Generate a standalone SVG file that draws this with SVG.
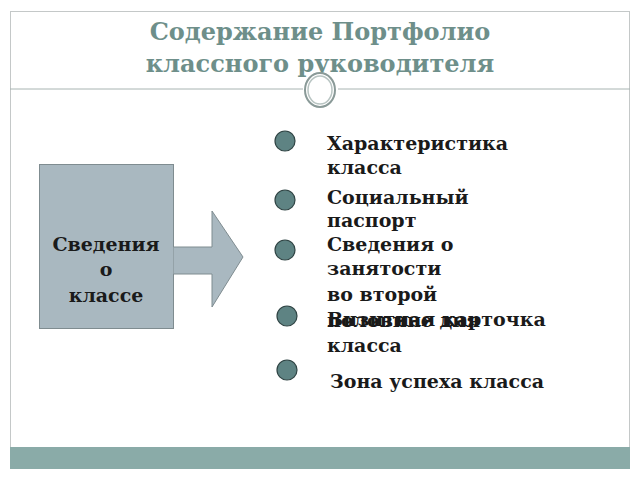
<svg xmlns="http://www.w3.org/2000/svg" width="640" height="480" viewBox="0 0 640 480">
<style>
.title{font-family:"DejaVu Serif",serif;font-weight:bold;font-size:24px;fill:#6e8f8a;text-anchor:middle}
.t{font-family:"DejaVu Serif",serif;font-weight:bold;font-size:19px;fill:#1a1a1a}
.b{fill:#5e8383;stroke:#2f4444;stroke-width:1.2}
</style>
<rect x="0" y="0" width="640" height="480" fill="#ffffff"/>
<rect x="10.5" y="11.5" width="619" height="457" fill="none" stroke="#c4c8c8" stroke-width="1"/>
<rect x="10" y="447" width="620" height="22" fill="#8aaba8"/>
<g id="header">
<text class="title" x="320" y="40">Содержание Портфолио</text>
<text class="title" x="320" y="72">классного руководителя</text>
<line x1="10" y1="89" x2="303" y2="89" stroke="#a8b4b2" stroke-width="1"/>
<line x1="338" y1="89" x2="630" y2="89" stroke="#a8b4b2" stroke-width="1"/>
<ellipse cx="320" cy="90" rx="15" ry="17" fill="#ffffff" stroke="#8a9a98" stroke-width="2"/>
<ellipse cx="320" cy="90" rx="12" ry="14" fill="none" stroke="#b8c4c2" stroke-width="1.5"/>
</g>
<g id="source">
<rect x="39.5" y="164.5" width="134" height="164" fill="#a9b8c0" stroke="#7f8c90" stroke-width="1"/>
<text class="t" x="106" y="251" text-anchor="middle" font-size="20">Сведения</text>
<text class="t" x="106" y="276" text-anchor="middle" font-size="20">о</text>
<text class="t" x="106" y="302" text-anchor="middle" font-size="20">классе</text>
</g>
<g id="connectors">
<path d="M173.5 247 L212 247 L212 211 L243 257 L212 307 L212 274 L173.5 274" fill="#a9b8c0" stroke="#7f8c90" stroke-width="1"/>
</g>
<g id="item1"><circle class="b" cx="285" cy="141" r="10"/><text class="t" x="327" y="150">Характеристика</text><text class="t" x="327" y="174">класса</text></g>
<g id="item2"><circle class="b" cx="285" cy="200" r="10"/><text class="t" x="327" y="204">Социальный</text><text class="t" x="327" y="227">паспорт</text></g>
<g id="item3"><circle class="b" cx="285" cy="250" r="10"/><text class="t" x="327" y="251">Сведения о</text><text class="t" x="327" y="275">занятости</text><text class="t" x="327" y="301">во второй</text><text class="t" x="327" y="327">половине дня</text></g>
<g id="item4"><circle class="b" cx="287" cy="316" r="10"/><text class="t" x="327" y="326">Визитная карточка</text><text class="t" x="327" y="352">класса</text></g>
<g id="item5"><circle class="b" cx="287" cy="370" r="10"/><text class="t" x="330" y="388">Зона успеха класса</text></g>
</svg>
